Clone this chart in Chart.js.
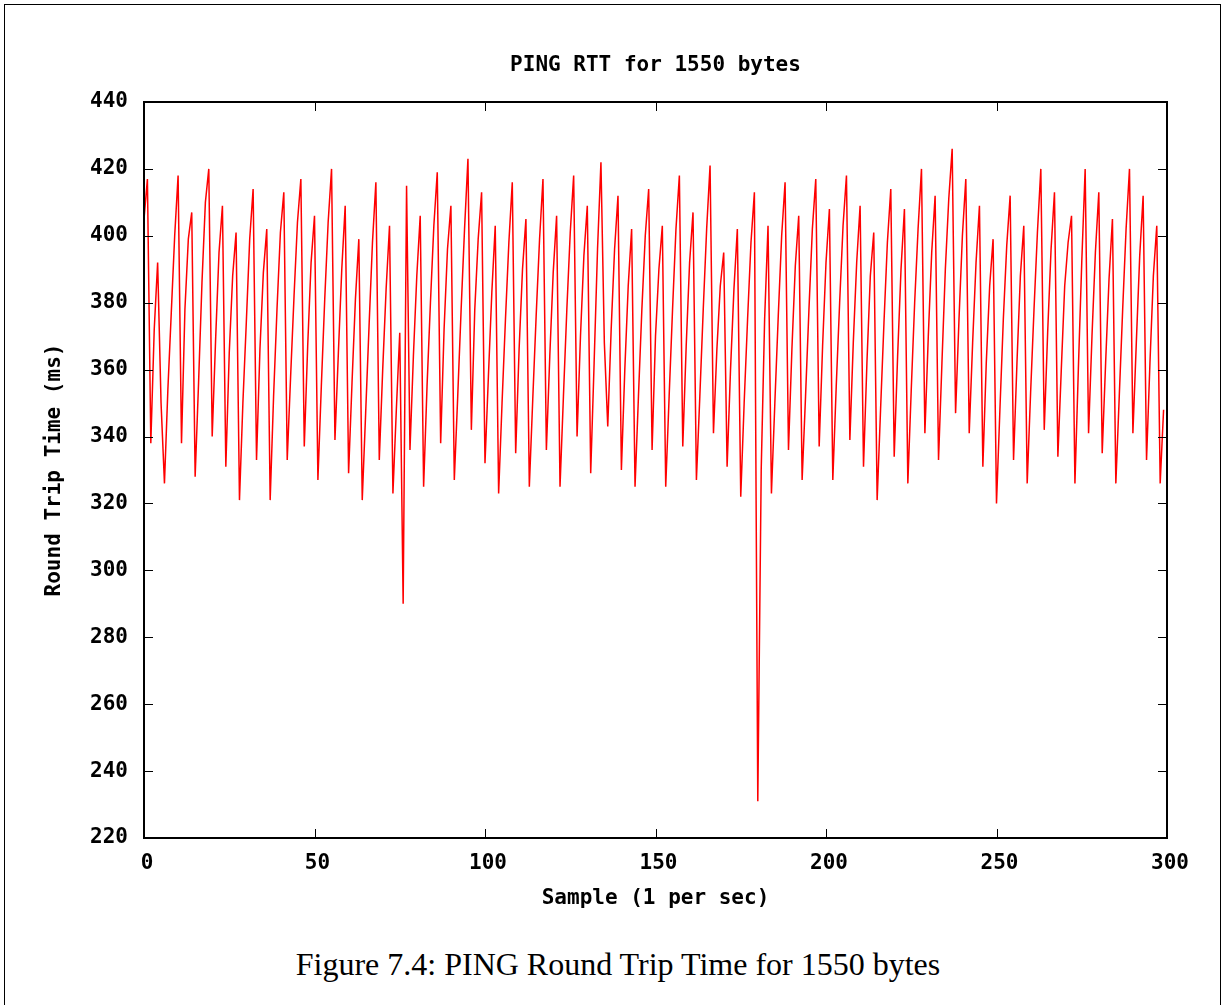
<!DOCTYPE html>
<html lang="en">
<head>
    <meta charset="UTF-8">
    <title>PING RTT for 1550 bytes</title>
    <script src="https://cdn.jsdelivr.net/npm/chart.js"></script>
    <style>
        body {
            margin: 0;
            background: #fff;
        }
        .page {
            position: relative;
            width: 1225px;
            height: 1005px;
            overflow: hidden;
        }
        .frame {
            position: absolute;
            left: 4px;
            top: 4px;
            width: 1215px;
            height: 1010px;
            border: 1px solid #000;
        }
        #rttChart {
            position: absolute;
            left: 0;
            top: 0;
        }
        .caption {
            position: absolute;
            top: 946px;
            left: 0;
            width: 1236px;
            text-align: center;
            font-family: 'Liberation Serif', 'Times New Roman', serif;
            font-size: 32px;
            color: #000;
        }
    </style>
</head>
<body>
    <div class="page">
        <div class="frame"></div>
        <canvas id="rttChart" width="1225" height="930"></canvas>
        <div class="caption">Figure 7.4: PING Round Trip Time for 1550 bytes</div>
    </div>

    <script>
        // RTT samples (ms), one per second
        const rtt = [
            405, 417, 338, 372, 392, 350, 326, 354, 377, 400,
            418, 338, 378, 399, 407, 328, 356, 386, 410, 420,
            340, 369, 395, 409, 331, 365, 388, 401, 321, 350,
            374, 399, 414, 333, 366, 389, 402, 321, 352, 378,
            401, 413, 333, 358, 382, 404, 417, 337, 367, 392,
            406, 327, 355, 381, 404, 420, 339, 365, 390, 409,
            329, 356, 381, 399, 321, 347, 373, 398, 416, 333,
            360, 384, 403, 323, 348, 371, 290, 415, 336, 364,
            388, 406, 325, 355, 380, 403, 419, 338, 372, 396,
            409, 327, 352, 378, 402, 423, 342, 378, 399, 413,
            332, 358, 383, 403, 323, 350, 375, 398, 416, 335,
            366, 390, 405, 325, 351, 376, 399, 417, 336, 364,
            389, 406, 325, 352, 378, 401, 418, 340, 370, 394,
            409, 329, 362, 396, 422, 368, 343, 372, 396, 412,
            330, 360, 385, 402, 325, 352, 378, 400, 414, 336,
            370, 390, 403, 325, 352, 378, 402, 418, 337, 367,
            392, 407, 327, 352, 378, 402, 421, 341, 366, 385,
            395, 331, 360, 384, 402, 322, 350, 375, 398, 413,
            231, 330, 375, 403, 323, 350, 376, 400, 416, 336,
            366, 391, 406, 327, 352, 378, 402, 417, 337, 367,
            392, 408, 327, 355, 380, 403, 418, 339, 368, 392,
            409, 331, 362, 388, 401, 321, 348, 374, 398, 414,
            334, 364, 390, 408, 326, 354, 380, 402, 420, 341,
            370, 395, 412, 333, 362, 390, 411, 426, 347, 375,
            400, 417, 341, 368, 392, 409, 331, 362, 385, 399,
            320, 348, 375, 397, 412, 333, 362, 388, 403, 326,
            353, 378, 401, 420, 342, 371, 396, 413, 334, 360,
            385, 398, 406, 326, 360, 392, 420, 341, 370, 395,
            413, 335, 362, 387, 405, 326, 352, 378, 402, 420,
            341, 368, 394, 412, 333, 362, 388, 403, 326, 348
        ];
        const xTicks = [0, 50, 100, 150, 200, 250, 300];
        const yTicks = [220, 240, 260, 280, 300, 320, 340, 360, 380, 400, 420, 440];
        const chartTitle = 'PING RTT for 1550 bytes';

        const labelFont = { family: "'DejaVu Sans Mono', monospace", size: 21, weight: 'bold' };

        // gnuplot style: border all round, ticks pointing inwards on every side,
        // title centred over the plot area rather than the canvas
        const gnuplotFrame = {
            id: 'gnuplotFrame',
            afterDatasetsDraw(chart) {
                const { ctx, chartArea: a, scales: { x, y } } = chart;
                const len = 9;
                ctx.save();
                ctx.strokeStyle = '#000';
                ctx.lineWidth = 1;
                ctx.beginPath();
                yTicks.forEach(v => {
                    const py = Math.round(y.getPixelForValue(v)) + 0.5;
                    ctx.moveTo(a.left, py);
                    ctx.lineTo(a.left + len, py);
                    ctx.moveTo(a.right, py);
                    ctx.lineTo(a.right - len, py);
                });
                xTicks.forEach(v => {
                    const px = Math.round(x.getPixelForValue(v)) + 0.5;
                    ctx.moveTo(px, a.bottom);
                    ctx.lineTo(px, a.bottom - len);
                    ctx.moveTo(px, a.top);
                    ctx.lineTo(px, a.top + len);
                });
                ctx.stroke();
                ctx.lineWidth = 2;
                ctx.strokeRect(a.left, a.top, a.right - a.left, a.bottom - a.top);

                ctx.fillStyle = '#000';
                ctx.font = `bold ${labelFont.size}px ${labelFont.family}`;
                ctx.textAlign = 'center';
                ctx.textBaseline = 'middle';
                ctx.fillText(chartTitle, (a.left + a.right) / 2, 66);
                ctx.restore();
            }
        };

        const ctx = document.getElementById('rttChart').getContext('2d');
        new Chart(ctx, {
            type: 'line',
            data: {
                datasets: [{
                    label: 'RTT',
                    data: rtt.map((v, i) => ({ x: i, y: v })),
                    borderColor: '#ff0000',
                    borderWidth: 1.5,
                    pointRadius: 0,
                    tension: 0,
                    fill: false
                }]
            },
            options: {
                responsive: false,
                animation: false,
                layout: {
                    padding: { left: 0, right: 58, top: 102, bottom: 0 }
                },
                scales: {
                    x: {
                        type: 'linear',
                        min: 0,
                        max: 300,
                        afterBuildTicks: s => { s.ticks = xTicks.map(v => ({ value: v })); },
                        afterFit: s => { s.height = 92; },
                        grid: { display: false, drawTicks: false },
                        border: { display: false },
                        ticks: { color: '#000', font: labelFont, padding: 13, maxRotation: 0, labelOffset: 3 },
                        title: {
                            display: true,
                            text: 'Sample (1 per sec)',
                            color: '#000',
                            font: labelFont,
                            padding: { top: 0, bottom: 19 }
                        }
                    },
                    y: {
                        min: 220,
                        max: 440,
                        afterBuildTicks: s => { s.ticks = yTicks.map(v => ({ value: v })); },
                        afterFit: s => { s.width = 144; },
                        grid: { display: false, drawTicks: false },
                        border: { display: false },
                        ticks: { color: '#000', font: labelFont, padding: 16 },
                        title: {
                            display: true,
                            text: 'Round Trip Time (ms)',
                            color: '#000',
                            font: labelFont,
                            padding: { top: 42, bottom: 0 }
                        }
                    }
                },
                plugins: {
                    legend: { display: false },
                    tooltip: { enabled: false },
                    title: { display: false }
                }
            },
            plugins: [gnuplotFrame]
        });
    </script>
</body>
</html>
